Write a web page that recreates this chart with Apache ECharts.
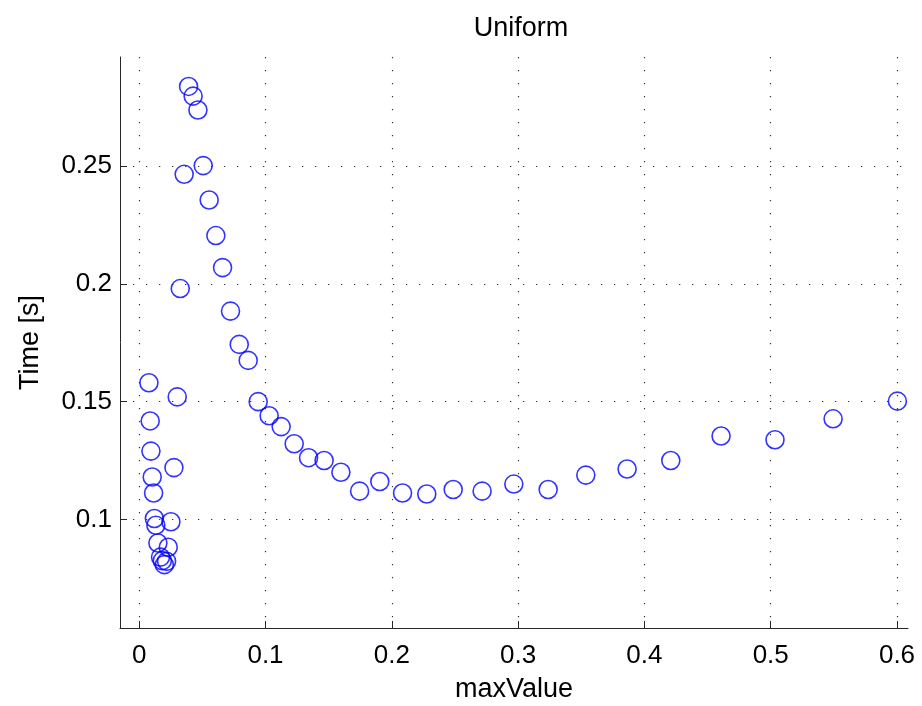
<!DOCTYPE html>
<html>
<head>
<meta charset="utf-8">
<script src="https://cdn.jsdelivr.net/npm/echarts@6/dist/echarts.min.js"></script>
<style>html,body{margin:0;padding:0;background:#fff}#c{width:922px;height:706px}</style>
</head>
<body>
<div id="c"></div>
<script>
const maxValue = [0.0077,0.0087,0.0093,0.0103,0.0114,0.0120,0.0132,0.0148,0.0169,0.0183,0.0199,0.0217,0.0230,0.0251,0.0275,0.0301,0.0325,0.0356,0.0391,0.0427,0.0465,0.0507,0.0554,0.0607,0.0660,0.0723,0.0792,0.0863,0.0942,0.1029,0.1124,0.1227,0.1341,0.1464,0.1597,0.1745,0.1905,0.2085,0.2277,0.2486,0.2715,0.2966,0.3238,0.3536,0.3863,0.4209,0.4607,0.5034,0.5494,0.6003];
const timeSec = [0.1580,0.1418,0.1290,0.1180,0.1112,0.1004,0.0975,0.0900,0.0840,0.0825,0.0808,0.0822,0.0882,0.0990,0.1220,0.1520,0.1980,0.2465,0.2838,0.2797,0.2738,0.2502,0.2356,0.2205,0.2069,0.1884,0.1743,0.1675,0.1500,0.1440,0.1394,0.1321,0.1262,0.1250,0.1200,0.1120,0.1161,0.1112,0.1108,0.1127,0.1120,0.1150,0.1127,0.1188,0.1214,0.1250,0.1354,0.1338,0.1427,0.1502];
const xTicks = [0,0.1,0.2,0.3,0.4,0.5,0.6];
const yTicks = [0.1,0.15,0.2,0.25];
const titleText = 'Uniform';
const xName = 'maxValue';
const yName = 'Time [s]';

const pts = maxValue.map((x,i)=>[x,timeSec[i]]);
const font = '"Liberation Sans", Arial, Helvetica, sans-serif';
const gridLine = {show:true, lineStyle:{color:'#000', type:[1.3,11.7], width:1.2, opacity:0.8}};
const chart = echarts.init(document.getElementById('c'), null, {renderer:'canvas'});
chart.setOption({
  animation:false,
  backgroundColor:'#fff',
  title:{text:titleText, left:516, top:10, textAlign:'center',
    textStyle:{fontFamily:font, fontSize:27, fontWeight:'normal', color:'#000'}},
  grid:{left:120, right:14, top:57, bottom:78, containLabel:false, outerBoundsMode:'none'},
  xAxis:{type:'value', min:-0.0152, max:0.6087,
    name:xName, nameLocation:'middle', nameGap:48,
    nameTextStyle:{fontFamily:font, fontSize:27, color:'#000'},
    axisLine:{show:true, onZero:false, lineStyle:{color:'#262626', width:1}},
    axisTick:{show:true, inside:true, length:7, customValues:xTicks, lineStyle:{color:'#262626'}},
    axisLabel:{customValues:xTicks, margin:15, fontFamily:font, fontSize:26, color:'#000',
      formatter:v=>String(Math.round(v*100)/100)},
    splitLine:gridLine},
  yAxis:{type:'value', min:0.0539, max:0.2963,
    name:yName, nameLocation:'middle', nameGap:76, nameRotate:90,
    nameTextStyle:{fontFamily:font, fontSize:27, color:'#000'},
    axisLine:{show:true, onZero:false, lineStyle:{color:'#262626', width:1}},
    axisTick:{show:true, inside:true, length:7, customValues:yTicks, lineStyle:{color:'#262626'}},
    axisLabel:{customValues:yTicks, margin:8, fontFamily:font, fontSize:26, color:'#000',
      formatter:v=>String(Math.round(v*100)/100)},
    splitLine:gridLine},
  series:[{type:'scatter', data:pts, symbol:'circle', symbolSize:18,
    itemStyle:{color:'rgba(0,0,0,0)', borderColor:'#0000ff', borderWidth:1.6}}]
});
</script>
</body>
</html>
